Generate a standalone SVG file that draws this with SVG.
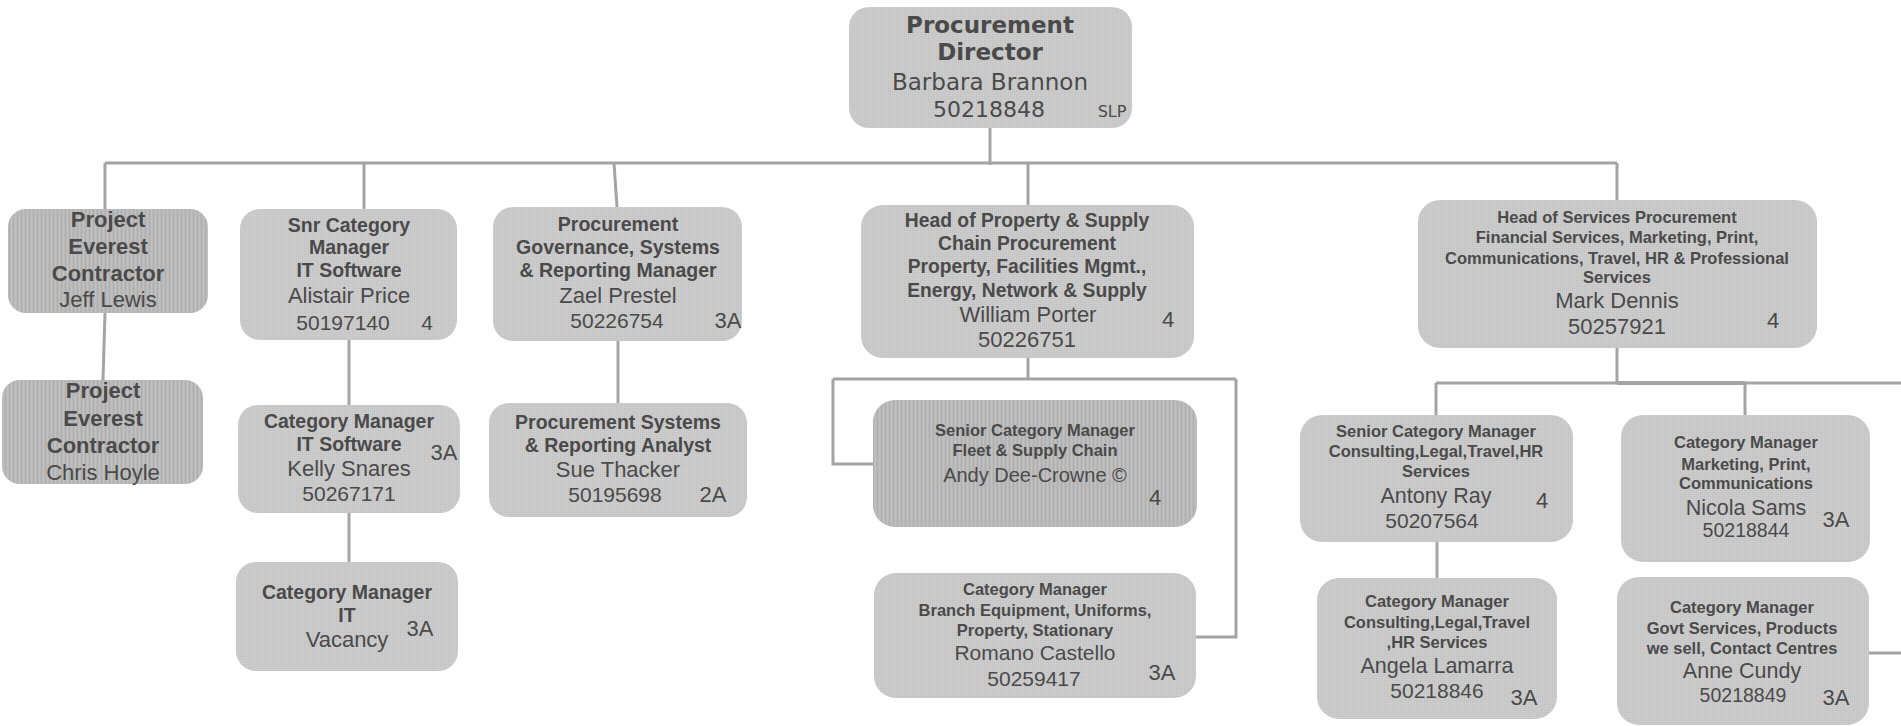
<svg xmlns="http://www.w3.org/2000/svg" width="1901" height="726" viewBox="0 0 1901 726">
<style>
.box{fill:url(#grain)}
.dark{fill:url(#stripes)}
.t{font-family:"Liberation Sans",Arial,sans-serif;fill:#4a4a4a;text-anchor:middle}
.v{font-family:"DejaVu Sans",Verdana,sans-serif;fill:#4a4a4a;text-anchor:middle}
.b{font-weight:bold}
.conn{stroke:#a4a4a4;stroke-width:3;fill:none}
</style>
<defs>
<pattern id="grain" patternUnits="userSpaceOnUse" width="2" height="2">
<rect width="2" height="2" fill="#c9c9c9"/>
<rect width="1" height="1" fill="#c2c2c2"/>
<rect x="1" y="1" width="1" height="1" fill="#cfcfcf"/>
</pattern>
<pattern id="stripes" patternUnits="userSpaceOnUse" width="4" height="4">
<rect width="4" height="4" fill="#b9b9b9"/>
<rect x="1" width="1" height="4" fill="#afafaf"/>
<rect x="3" width="1" height="4" fill="#c0c0c0"/>
</pattern>
</defs>
<rect width="1901" height="726" fill="#ffffff"/>

<g id="connectors">
<path class="conn" d="M990 128V165"/>
<path class="conn" d="M105 163H1617"/>
<path class="conn" d="M105 163V209M364 163V209M614 163L617 207M1028 163V205M1617 163V200"/>
<path class="conn" d="M105 313L103 380"/>
<path class="conn" d="M349 340V405M349 513V562"/>
<path class="conn" d="M618 341V403"/>
<path class="conn" d="M1028 358V379M833 379H1236M833 379V464H873M1236 379V637H1196"/>
<path class="conn" d="M1617 348V383M1436 383H1901M1436 383V415M1745 383V415M1437 542V578M1869 653H1901"/>
<path class="conn" style="stroke-width:4" d="M1617 383H1745"/>
</g>

<g id="director">
<rect class="box" x="849" y="7" width="283" height="121" rx="20"/>
<text class="v b" x="990" y="33" font-size="23">Procurement</text>
<text class="v b" x="990" y="60" font-size="23">Director</text>
<text class="v" x="990" y="90" font-size="23">Barbara Brannon</text>
<text class="v" x="989" y="117" font-size="22">50218848</text>
<text class="v" x="1112" y="117" font-size="16">SLP</text>
</g>

<g id="everest1">
<rect class="dark" x="8" y="209" width="200" height="104" rx="18"/>
<text class="t b" x="108" y="227" font-size="22">Project</text>
<text class="t b" x="108" y="254" font-size="22">Everest</text>
<text class="t b" x="108" y="281" font-size="22">Contractor</text>
<text class="t" x="108" y="307" font-size="22">Jeff Lewis</text>
</g>

<g id="everest2">
<rect class="dark" x="2" y="380" width="201" height="104" rx="18"/>
<text class="t b" x="103" y="398" font-size="22">Project</text>
<text class="t b" x="103" y="426" font-size="22">Everest</text>
<text class="t b" x="103" y="453" font-size="22">Contractor</text>
<text class="t" x="103" y="480" font-size="22">Chris Hoyle</text>
</g>

<g id="snr-it">
<rect class="box" x="240" y="209" width="217" height="131" rx="20"/>
<text class="t b" x="349" y="232" font-size="19.5">Snr Category</text>
<text class="t b" x="349" y="254" font-size="19.5">Manager</text>
<text class="t b" x="349" y="277" font-size="19.5">IT Software</text>
<text class="t" x="349" y="303" font-size="22">Alistair Price</text>
<text class="t" x="343" y="330" font-size="21">50197140</text>
<text class="t" x="427" y="330" font-size="21">4</text>
</g>

<g id="cm-it-software">
<rect class="box" x="238" y="405" width="222" height="108" rx="20"/>
<text class="t b" x="349" y="428" font-size="19.5">Category Manager</text>
<text class="t b" x="349" y="451" font-size="19.5">IT Software</text>
<text class="t" x="349" y="476" font-size="22">Kelly Snares</text>
<text class="t" x="349" y="501" font-size="21">50267171</text>
<text class="t" x="444" y="460" font-size="22">3A</text>
</g>

<g id="cm-it">
<rect class="box" x="236" y="562" width="222" height="109" rx="20"/>
<text class="t b" x="347" y="599" font-size="19.5">Category Manager</text>
<text class="t b" x="347" y="622" font-size="19.5">IT</text>
<text class="t" x="347" y="647" font-size="22">Vacancy</text>
<text class="t" x="420" y="636" font-size="22">3A</text>
</g>

<g id="governance">
<rect class="box" x="493" y="207" width="249" height="134" rx="20"/>
<text class="t b" x="618" y="231" font-size="19.5">Procurement</text>
<text class="t b" x="618" y="254" font-size="19.5">Governance, Systems</text>
<text class="t b" x="618" y="277" font-size="19.5">&amp; Reporting Manager</text>
<text class="t" x="618" y="303" font-size="22">Zael Prestel</text>
<text class="t" x="617" y="328" font-size="21">50226754</text>
<text class="t" x="728" y="328" font-size="22">3A</text>
</g>

<g id="analyst">
<rect class="box" x="489" y="403" width="258" height="114" rx="20"/>
<text class="t b" x="618" y="429" font-size="19.5">Procurement Systems</text>
<text class="t b" x="618" y="452" font-size="19.5">&amp; Reporting Analyst</text>
<text class="t" x="618" y="477" font-size="22">Sue Thacker</text>
<text class="t" x="615" y="502" font-size="21">50195698</text>
<text class="t" x="713" y="502" font-size="22">2A</text>
</g>

<g id="head-property">
<rect class="box" x="861" y="205" width="333" height="153" rx="22"/>
<text class="t b" x="1027" y="227" font-size="19.3">Head of Property &amp; Supply</text>
<text class="t b" x="1027" y="250" font-size="19.3">Chain Procurement</text>
<text class="t b" x="1027" y="273" font-size="19.3">Property, Facilities Mgmt.,</text>
<text class="t b" x="1027" y="297" font-size="19.3">Energy, Network &amp; Supply</text>
<text class="t" x="1028" y="322" font-size="22">William Porter</text>
<text class="t" x="1027" y="347" font-size="22">50226751</text>
<text class="t" x="1168" y="327" font-size="22">4</text>
</g>

<g id="fleet">
<rect class="dark" x="873" y="400" width="324" height="127" rx="22"/>
<text class="t b" x="1035" y="436" font-size="16.5">Senior Category Manager</text>
<text class="t b" x="1035" y="456" font-size="16.5">Fleet &amp; Supply Chain</text>
<text class="t" x="1035" y="482" font-size="20">Andy Dee-Crowne ©</text>
<text class="t" x="1155" y="505" font-size="22">4</text>
</g>

<g id="branch">
<rect class="box" x="874" y="573" width="322" height="125" rx="22"/>
<text class="t b" x="1035" y="595" font-size="16.5">Category Manager</text>
<text class="t b" x="1035" y="616" font-size="16.5">Branch Equipment, Uniforms,</text>
<text class="t b" x="1035" y="636" font-size="16.5">Property, Stationary</text>
<text class="t" x="1035" y="660" font-size="21">Romano Castello</text>
<text class="t" x="1034" y="686" font-size="21">50259417</text>
<text class="t" x="1162" y="680" font-size="22">3A</text>
</g>

<g id="head-services">
<rect class="box" x="1418" y="200" width="399" height="148" rx="22"/>
<text class="t b" x="1617" y="223" font-size="16.5">Head of Services Procurement</text>
<text class="t b" x="1617" y="243" font-size="16.5">Financial Services, Marketing, Print,</text>
<text class="t b" x="1617" y="264" font-size="16.5">Communications, Travel, HR &amp; Professional</text>
<text class="t b" x="1617" y="283" font-size="16.5">Services</text>
<text class="t" x="1617" y="308" font-size="22">Mark Dennis</text>
<text class="t" x="1617" y="334" font-size="22">50257921</text>
<text class="t" x="1773" y="328" font-size="22">4</text>
</g>

<g id="antony">
<rect class="box" x="1300" y="415" width="273" height="127" rx="22"/>
<text class="t b" x="1436" y="437" font-size="16.5">Senior Category Manager</text>
<text class="t b" x="1436" y="457" font-size="16.5">Consulting,Legal,Travel,HR</text>
<text class="t b" x="1436" y="477" font-size="16.5">Services</text>
<text class="t" x="1436" y="503" font-size="21.5">Antony Ray</text>
<text class="t" x="1432" y="528" font-size="21">50207564</text>
<text class="t" x="1542" y="508" font-size="22">4</text>
</g>

<g id="angela">
<rect class="box" x="1317" y="578" width="240" height="141" rx="22"/>
<text class="t b" x="1437" y="607" font-size="16.5">Category Manager</text>
<text class="t b" x="1437" y="628" font-size="16.5">Consulting,Legal,Travel</text>
<text class="t b" x="1437" y="648" font-size="16.5">,HR Services</text>
<text class="t" x="1437" y="673" font-size="21.5">Angela Lamarra</text>
<text class="t" x="1437" y="698" font-size="21">50218846</text>
<text class="t" x="1524" y="705" font-size="22">3A</text>
</g>

<g id="nicola">
<rect class="box" x="1621" y="415" width="249" height="147" rx="22"/>
<text class="t b" x="1746" y="448" font-size="16.5">Category Manager</text>
<text class="t b" x="1746" y="470" font-size="16.5">Marketing, Print,</text>
<text class="t b" x="1746" y="489" font-size="16.5">Communications</text>
<text class="t" x="1746" y="515" font-size="21.5">Nicola Sams</text>
<text class="t" x="1746" y="537" font-size="19.5">50218844</text>
<text class="t" x="1836" y="527" font-size="22">3A</text>
</g>

<g id="anne">
<rect class="box" x="1617" y="577" width="252" height="148" rx="22"/>
<text class="t b" x="1742" y="613" font-size="16.5">Category Manager</text>
<text class="t b" x="1742" y="634" font-size="16.5">Govt Services, Products</text>
<text class="t b" x="1742" y="654" font-size="16.5">we sell, Contact Centres</text>
<text class="t" x="1742" y="678" font-size="21.5">Anne Cundy</text>
<text class="t" x="1743" y="702" font-size="19.5">50218849</text>
<text class="t" x="1836" y="705" font-size="22">3A</text>
</g>
</svg>
